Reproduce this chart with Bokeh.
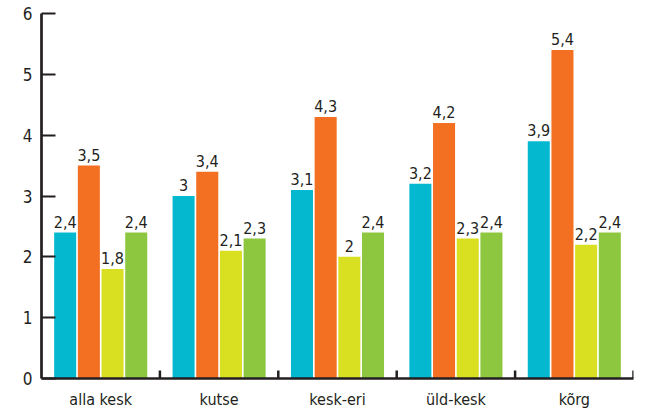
from bokeh.plotting import figure
from bokeh.models import ColumnDataSource, FactorRange, Range1d, FixedTicker
from bokeh.transform import dodge
from bokeh.core.properties import value
from bokeh.embed import file_html
from bokeh.resources import INLINE

categories = ["alla kesk", "kutse", "kesk-eri", "üld-kesk", "kõrg"]
series1 = [2.4, 3.0, 3.1, 3.2, 3.9]
series2 = [3.5, 3.4, 4.3, 4.2, 5.4]
series3 = [1.8, 2.1, 2.0, 2.3, 2.2]
series4 = [2.4, 2.3, 2.4, 2.4, 2.4]
y_ticks = [0, 1, 2, 3, 4, 5, 6]

colors = ["#04B9CF", "#F36F21", "#D8E021", "#8DC63F"]
offsets = [-0.3, -0.1, 0.1, 0.3]
FONT = "'Liberation Sans Narrow', 'DejaVu Sans Condensed', 'Roboto Condensed', Roboto, sans-serif"
INK = "#231F20"


def fmt(v):
    return f"{v:g}".replace(".", ",")


p = figure(
    x_range=FactorRange(*categories, range_padding=0),
    y_range=Range1d(0, 6),
    width=645, height=411,
    min_border_left=41, min_border_top=13, min_border_right=12, min_border_bottom=32,
    output_backend="svg", toolbar_location=None,
)
p.outline_line_color = None
p.grid.grid_line_color = None
p.background_fill_color = "white"

for s, col, off in zip([series1, series2, series3, series4], colors, offsets):
    src = ColumnDataSource(dict(cat=categories, val=s, lab=[fmt(v) for v in s]))
    p.vbar(x=dodge("cat", off, range=p.x_range), top="val", width=0.186,
           source=src, fill_color=col, line_color=None)
    p.text(x=dodge("cat", off, range=p.x_range), y="val", text="lab", source=src,
           text_align="center", text_baseline="bottom", y_offset=-5,
           text_font=value(FONT), text_font_size="16px", text_color=INK)

# category boundary ticks on the x axis
tsrc = ColumnDataSource(dict(cat=categories))
p.segment(x0=dodge("cat", 0.5, range=p.x_range), x1=dodge("cat", 0.5, range=p.x_range),
          y0=0, y1=0.13, source=tsrc, line_color=INK, line_width=2.5)

xa = p.xaxis[0]
xa.axis_line_color = INK
xa.axis_line_width = 2.7
xa.major_tick_line_color = None
xa.minor_tick_line_color = None
xa.major_tick_in = 0
xa.major_tick_out = 0
xa.major_label_standoff = 11
xa.major_label_text_font = FONT
xa.major_label_text_font_size = "16px"
xa.major_label_text_color = INK

ya = p.yaxis[0]
ya.ticker = FixedTicker(ticks=y_ticks)
ya.axis_line_color = INK
ya.axis_line_width = 2.7
ya.major_tick_line_color = INK
ya.major_tick_line_width = 2.2
ya.major_tick_in = 14
ya.major_tick_out = 0
ya.minor_tick_line_color = None
ya.major_label_standoff = 9
ya.major_label_text_font = FONT
ya.major_label_text_font_size = "17px"
ya.major_label_text_color = INK

open("out.html", "w").write(file_html(p, INLINE))
